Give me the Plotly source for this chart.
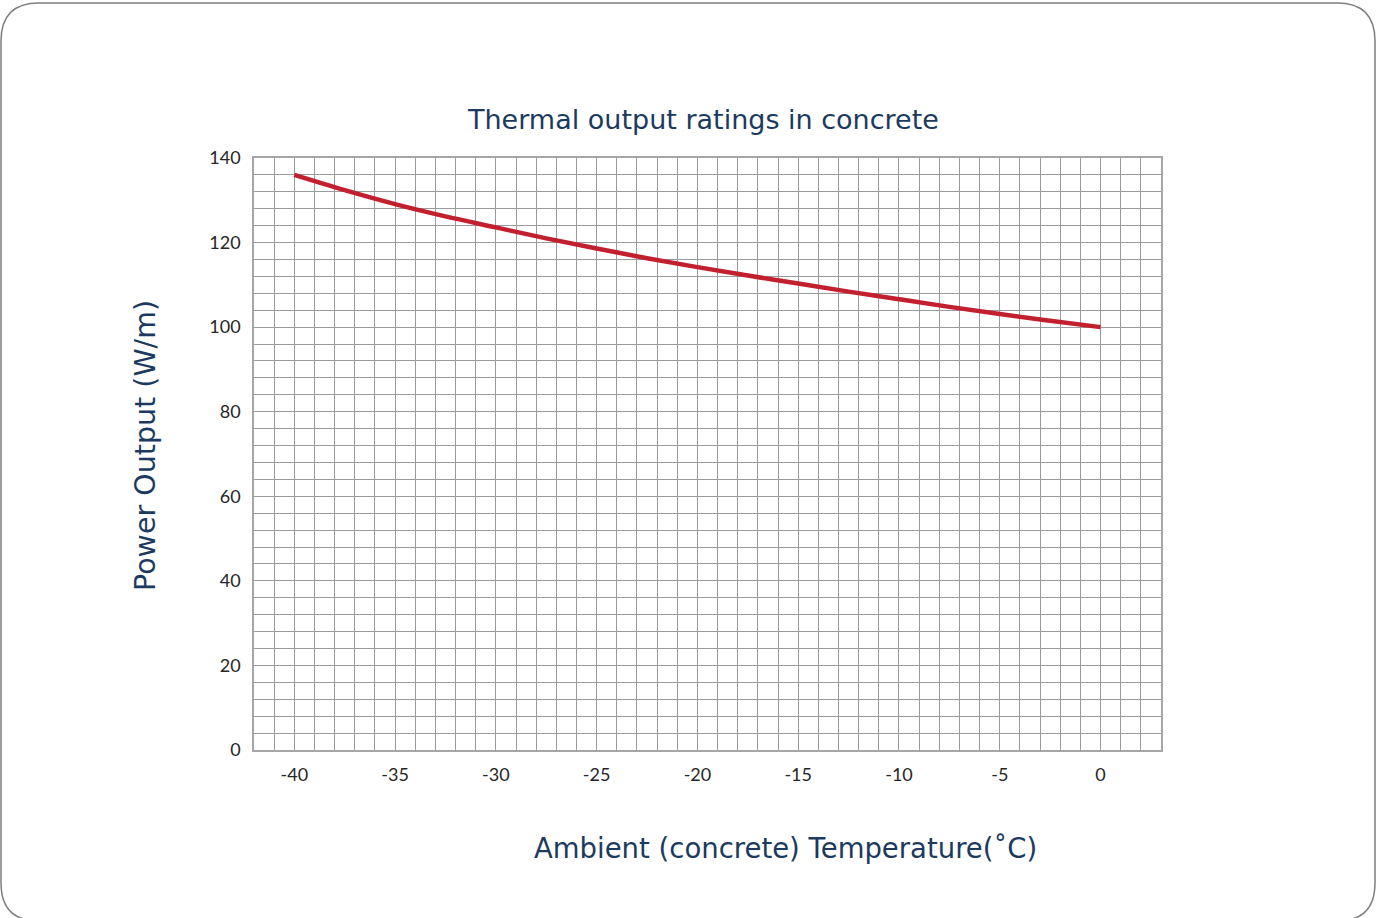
import plotly.graph_objects as go

# Data
temperature = [-40, -37.5, -35, -32.5, -30, -27.5, -25, -22.5, -20, -17.5, -15, -12.5, -10, -7.5, -5, -2.5, 0]
power_output = [136.0, 132.4, 129.1, 126.2, 123.6, 121.0, 118.6, 116.3, 114.2, 112.2, 110.3, 108.4, 106.6, 104.8, 103.1, 101.5, 100.0]
x_ticks = [-40, -35, -30, -25, -20, -15, -10, -5, 0]
y_ticks = [0, 20, 40, 60, 80, 100, 120, 140]

W, H = 1376, 918
L, R, T, B = 254, 1161, 158, 750


def px(x):
    return (x - L) / (R - L)


def py(y):
    return (B - y) / (B - T)


navy = "#1c3a60"
grid = "#9a9a9a"

fig = go.Figure()
fig.add_trace(go.Scatter(
    x=temperature, y=power_output, mode="lines",
    line=dict(color="#c2202f", width=4.5, shape="spline", smoothing=1.0),
    hoverinfo="x+y", showlegend=False,
))

fig.update_layout(
    width=W, height=H,
    margin=dict(l=L, r=W - R, t=T, b=H - B),
    paper_bgcolor="white", plot_bgcolor="white",
    font=dict(family="Lato, 'Open Sans', sans-serif", color="#262626", size=18),
)
fig.update_xaxes(
    range=[-42, 3], tickvals=x_ticks, ticktext=[str(v) for v in x_ticks],
    showgrid=True, gridcolor=grid, gridwidth=1,
    minor=dict(dtick=1, tick0=0, showgrid=True, gridcolor=grid, gridwidth=1),
    showline=True, linecolor="#a6a6a6", linewidth=1.5, mirror=True,
    zeroline=False, ticks="", ticklabelstandoff=8,
    tickfont=dict(size=18, family="Lato, sans-serif", color="#262626"),
)
fig.update_yaxes(
    range=[0, 140], tickvals=y_ticks, ticktext=[str(v) for v in y_ticks],
    showgrid=True, gridcolor=grid, gridwidth=1,
    minor=dict(dtick=4, tick0=0, showgrid=True, gridcolor=grid, gridwidth=1),
    showline=True, linecolor="#a6a6a6", linewidth=1.5, mirror=True,
    zeroline=False, ticks="", ticklabelstandoff=8,
    tickfont=dict(size=18, family="Lato, sans-serif", color="#262626"),
)

title_font = dict(family="'DejaVu Sans', sans-serif", size=27, color=navy)
fig.add_annotation(text="Thermal output ratings in concrete", xref="paper", yref="paper",
                   x=px(703), y=py(119), showarrow=False, font=title_font,
                   xanchor="center", yanchor="middle")
fig.add_annotation(text="Ambient (concrete) Temperature(˚C)", xref="paper", yref="paper",
                   x=px(785), y=py(848), showarrow=False, font=dict(title_font, size=27.5),
                   xanchor="center", yanchor="middle")
fig.add_annotation(text="Power Output (W/m)", xref="paper", yref="paper",
                   x=px(145), y=py(446), showarrow=False, font=dict(title_font, size=28.5),
                   textangle=-90, xanchor="center", yanchor="middle")

# rounded border
x0, x1, y0, y1, r = 1, 1375, 3, 921, 38
path = (
    f"M {px(x0 + r)},{py(y0)} L {px(x1 - r)},{py(y0)} "
    f"Q {px(x1)},{py(y0)} {px(x1)},{py(y0 + r)} "
    f"L {px(x1)},{py(y1 - r)} Q {px(x1)},{py(y1)} {px(x1 - r)},{py(y1)} "
    f"L {px(x0 + r)},{py(y1)} Q {px(x0)},{py(y1)} {px(x0)},{py(y1 - r)} "
    f"L {px(x0)},{py(y0 + r)} Q {px(x0)},{py(y0)} {px(x0 + r)},{py(y0)} Z"
)
fig.add_shape(type="path", path=path, xref="paper", yref="paper",
              line=dict(color="#7f7f7f", width=1.5), layer="above")

fig.write_html(
    "out.html",
    config={"displayModeBar": False},
    post_script="document.body.style.margin='0';document.body.style.overflow='hidden';",
)
